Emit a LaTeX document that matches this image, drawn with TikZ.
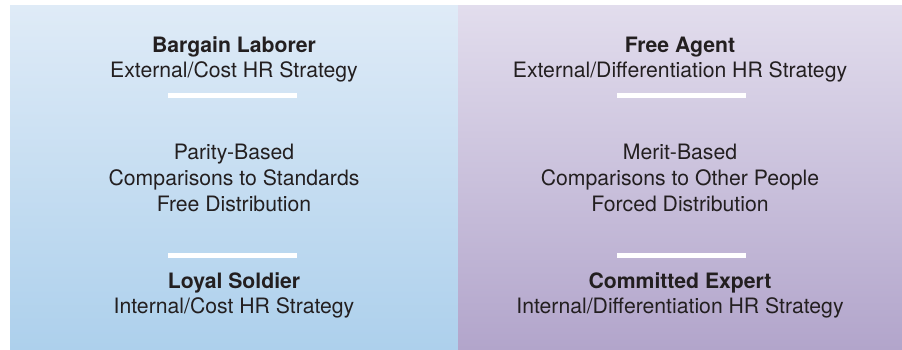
\documentclass[tikz,border=0pt]{standalone}
\usepackage{fontspec}
\setmainfont{TeX Gyre Heros}
\definecolor{txt}{HTML}{231F20}
\definecolor{lefttop}{HTML}{DFEBF7}
\definecolor{leftbot}{HTML}{ADD0EC}
\definecolor{righttop}{HTML}{E2DDED}
\definecolor{rightbot}{HTML}{B2A5CB}
\begin{document}
\begin{tikzpicture}[x=1pt,y=-1pt,
  lbl/.style={anchor=base,inner sep=0pt,text=txt,font=\fontsize{21.2}{25}\selectfont},
  ttl/.style={lbl,font=\fontsize{21.2}{25}\selectfont\bfseries},
  sep/.style={draw=white,line width=5pt}]
\useasboundingbox (0,0) rectangle (902,349);
\fill[white] (0,0) rectangle (902,349);
\shade[top color=lefttop,bottom color=leftbot] (10,5) rectangle (458,349);
\shade[top color=righttop,bottom color=rightbot] (458,5) rectangle (902,349);
% left column
\node[ttl] (bl) at (234,52) {Bargain Laborer};
\node[lbl] (bls) at (234,77) {External/Cost HR Strategy};
\draw[sep] (168,95) -- (297,95);
\node[lbl] (lm1) at (234,159) {Parity-Based};
\node[lbl] (lm2) at (234,185) {Comparisons to Standards};
\node[lbl] (lm3) at (234,211) {Free Distribution};
\draw[sep] (168,255.5) -- (297,255.5);
\node[ttl] (ls) at (234,288) {Loyal Soldier};
\node[lbl] (lss) at (234,313) {Internal/Cost HR Strategy};
% right column
\node[ttl] (fa) at (680,52) {Free Agent};
\node[lbl] (fas) at (680,77) {External/Differentiation HR Strategy};
\draw[sep] (617,95) -- (746,95);
\node[lbl] (rm1) at (680,159) {Merit-Based};
\node[lbl] (rm2) at (680,185) {Comparisons to Other People};
\node[lbl] (rm3) at (680,211) {Forced Distribution};
\draw[sep] (617,255.5) -- (746,255.5);
\node[ttl] (ce) at (680,288) {Committed Expert};
\node[lbl] (ces) at (680,313) {Internal/Differentiation HR Strategy};
\end{tikzpicture}
\end{document}
